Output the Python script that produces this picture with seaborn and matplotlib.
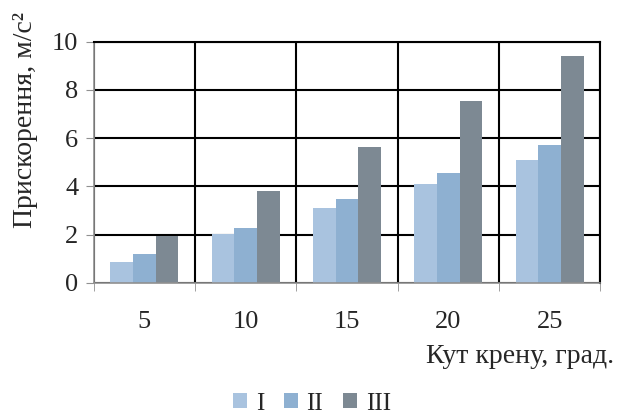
import numpy as np
import pandas as pd
import matplotlib
matplotlib.use('Agg')
import matplotlib.pyplot as plt
import seaborn as sns

# Кут крену та прискорення для трьох варіантів
angles = ['5', '10', '15', '20', '25']
series_names = ['I', 'II', 'III']
accel_I = [0.85, 2.04, 3.10, 4.11, 5.09]
accel_II = [1.21, 2.29, 3.46, 4.55, 5.72]
accel_III = [1.93, 3.82, 5.64, 7.53, 9.42]
colors = ['#a9c3df', '#8eb0d1', '#7d8993']

df = pd.DataFrame({
    'angle': angles * 3,
    'series': sum([[s] * len(angles) for s in series_names], []),
    'value': accel_I + accel_II + accel_III,
})

sns.set_style('white')
plt.rcParams['font.family'] = ['Liberation Serif', 'DejaVu Serif']

fig, ax = plt.subplots(figsize=(6.24, 4.16), dpi=100)
sns.barplot(data=df, x='angle', y='value', hue='series', order=angles,
            hue_order=series_names, palette=colors, width=0.67,
            saturation=1, linewidth=0, ax=ax)

ax.set_ylim(0, 10)
ax.set_xlim(-0.5, len(angles) - 0.5)
ax.set_yticks(np.arange(0, 11, 2))
ax.set_xticks(np.arange(-0.5, len(angles), 1), minor=True)

ax.grid(axis='y', which='major', color='black', linewidth=1.5)
ax.grid(axis='x', which='minor', color='black', linewidth=1.5)
ax.set_axisbelow(True)

for side in ['top', 'right']:
    ax.spines[side].set_color('black')
    ax.spines[side].set_linewidth(1.5)
for side in ['left', 'bottom']:
    ax.spines[side].set_color('#909090')
    ax.spines[side].set_linewidth(1.2)

ax.tick_params(axis='y', which='major', left=True, length=6, color='#909090',
               labelsize=19, pad=5)
ax.tick_params(axis='x', which='major', bottom=False, labelsize=19, pad=17)
ax.tick_params(axis='x', which='minor', bottom=True, length=6, color='#909090')

ax.set_ylabel('Прискорення, м/с²', fontsize=20)
ax.yaxis.set_label_coords(-0.11, 0.676)
ax.set_xlabel('Кут крену, град.', fontsize=20, ha='right')
ax.xaxis.set_label_coords(1.028, -0.255)

ax.get_legend().remove()
handles, labels = ax.get_legend_handles_labels()
fig.legend(handles, labels, loc='center', bbox_to_anchor=(0.5, 0.03), ncol=3,
           frameon=False, fontsize=18, handlelength=0.55, handleheight=0.55,
           handletextpad=0.35, columnspacing=0.8)

plt.subplots_adjust(left=0.15, right=0.962, top=0.9, bottom=0.32)
plt.savefig('out.png')
